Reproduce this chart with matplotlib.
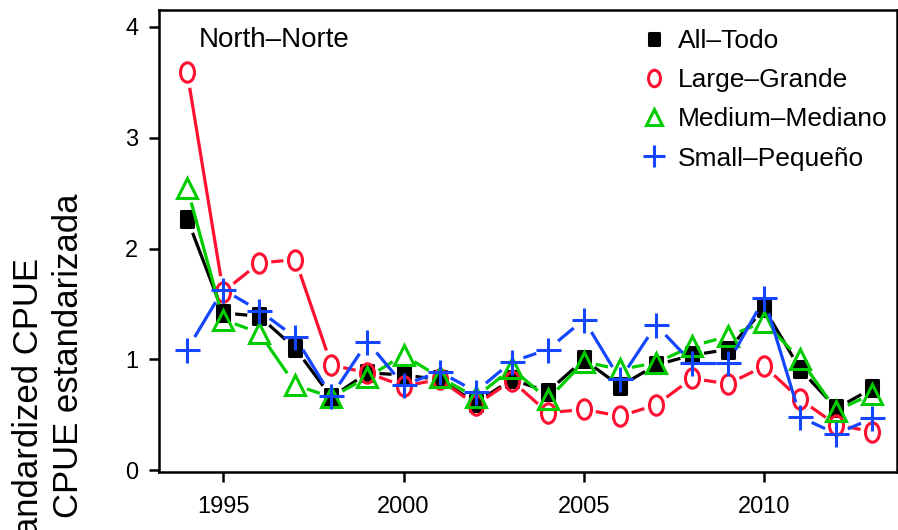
import numpy as np
import matplotlib
matplotlib.use('Agg')
import matplotlib.pyplot as plt
from matplotlib.lines import Line2D
from matplotlib.path import Path
from matplotlib.transforms import Affine2D

plt.rcParams['font.family'] = ['Liberation Sans', 'DejaVu Sans']

anos = list(range(1994, 2014))
todo = [2.27, 1.42, 1.39, 1.10, 0.66, 0.88, 0.86, 0.82, 0.61, 0.82,
        0.71, 1.00, 0.76, 0.95, 1.04, 1.09, 1.46, 0.91, 0.56, 0.74]
grande = [3.59, 1.61, 1.87, 1.90, 0.95, 0.88, 0.76, 0.82, 0.59, 0.81,
          0.52, 0.55, 0.49, 0.59, 0.83, 0.78, 0.94, 0.64, 0.41, 0.35]
mediano = [2.55, 1.36, 1.24, 0.77, 0.66, 0.84, 1.04, 0.84, 0.66, 0.92,
           0.64, 0.98, 0.91, 0.97, 1.12, 1.21, 1.34, 1.00, 0.54, 0.69]
pequeno = [1.09, 1.63, 1.44, 1.20, 0.67, 1.16, 0.77, 0.89, 0.71, 0.98,
           1.09, 1.36, 0.82, 1.31, 0.97, 0.97, 1.55, 0.48, 0.33, 0.47]
rotulos = ['All\u2013Todo', 'Large\u2013Grande', 'Medium\u2013Mediano', 'Small\u2013Peque\u00f1o']
anos_ticks = [1995, 2000, 2005, 2010]
y_ticks = [0, 1, 2, 3, 4]

# marcadores um pouco esticados na vertical, como no original
quadrado = Path([(-0.38, -0.5), (0.38, -0.5), (0.38, 0.5), (-0.38, 0.5), (-0.38, -0.5)],
                [Path.MOVETO, Path.LINETO, Path.LINETO, Path.LINETO, Path.CLOSEPOLY])
elipse = Path.unit_circle().transformed(Affine2D().scale(0.72, 1.0))

series = [
    (todo, 'black', quadrado, 11, 'black'),
    (grande, '#ff1030', elipse, 14, 'none'),
    (mediano, '#00cc00', '^', 14, 'none'),
    (pequeno, '#1446ff', '+', 18, 'none'),
]

fig = plt.figure(figsize=(8.98, 5.3), dpi=100)
ax = fig.add_axes([159 / 898, 58 / 530, 738 / 898, 462 / 530])
ax.set_xlim(1993.22, 2013.68)
ax.set_ylim(-0.014, 4.15)

# linhas tipo "b" do R: segmentos com folga em volta dos pontos
rx, ry = 12.0, 16.0
for valores, cor, marca, tam, preench in series:
    pts = ax.transData.transform(np.column_stack([anos, valores]))
    for i in range(len(pts) - 1):
        d = pts[i + 1] - pts[i]
        t = 1.0 / np.sqrt((d[0] / rx) ** 2 + (d[1] / ry) ** 2)
        if 2 * t >= 1:
            continue
        seg = np.array([pts[i] + t * d, pts[i + 1] - t * d])
        seg = ax.transData.inverted().transform(seg)
        ax.plot(seg[:, 0], seg[:, 1], color=cor, lw=2.3, solid_capstyle='butt')
    ax.plot(anos, valores, linestyle='none', marker=marca, markersize=tam,
            markerfacecolor=preench, markeredgecolor=cor, markeredgewidth=2.2)

for lado in ['top', 'right', 'bottom', 'left']:
    ax.spines[lado].set_linewidth(1.8)

ax.set_xticks(anos_ticks)
ax.set_yticks(y_ticks)
ax.tick_params(axis='both', direction='out', length=7, width=1.8, labelsize=17, pad=8)
ax.tick_params(axis='x', pad=10)

ax.text(0.054, 0.92, 'North\u2013Norte', transform=ax.transAxes, fontsize=20, va='baseline')

handles = [Line2D([], [], linestyle='none', marker=m, markersize=t * 0.85,
                  markerfacecolor=p, markeredgecolor=c, markeredgewidth=2.2)
           for _, c, m, t, p in series]
ax.legend(handles, rotulos, loc='upper left', bbox_to_anchor=(0.657, 0.958),
          frameon=False, fontsize=19, handlelength=0.8, handletextpad=0.5,
          labelspacing=0.57, borderpad=0, borderaxespad=0)

fig.text(29 / 898, 1 - 258 / 530, 'Standardized CPUE', rotation=90, ha='center', va='top',
         fontsize=25)
fig.text(69 / 898, 1 - 193 / 530, 'CPUE estandarizada', rotation=90, ha='center', va='top',
         fontsize=25)

fig.savefig('out.png', dpi=100)
